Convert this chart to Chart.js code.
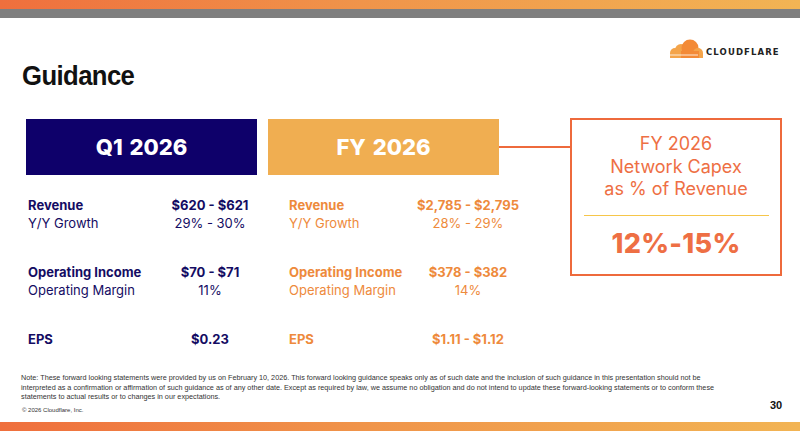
<!DOCTYPE html>
<html>
<head>
<meta charset="utf-8">
<script src="https://cdn.jsdelivr.net/npm/chart.js@4/dist/chart.umd.min.js"></script>
<style>
  html,body{margin:0;padding:0;background:#fff;}
  body{width:800px;height:431px;position:relative;overflow:hidden;font-family:Inter,"Noto Sans",sans-serif;}
  .abs{position:absolute;}
  #topbar{left:0;top:0;width:800px;height:9px;background:linear-gradient(90deg,#ef6f3d,#f0944a 45%,#f2b454);}
  #graybar{left:0;top:9px;width:800px;height:9px;background:#7f7f7f;}
  #botbar{left:0;top:422px;width:800px;height:9px;background:linear-gradient(90deg,#ef6f3d,#f0944a 45%,#f2b454);}
  #title{left:22px;top:61px;font-family:"Liberation Sans",Arial,sans-serif;font-weight:bold;font-size:27px;color:#111;letter-spacing:-0.6px;transform-origin:0 0;transform:scaleX(0.95);}
  .hdr{top:119px;width:231px;height:56px;color:#fff;font-weight:800;font-size:22px;display:flex;align-items:center;justify-content:center;word-spacing:2px;}
  #hq1{left:26px;background:#0e006a;}
  #hfy{left:268px;background:#f0ae51;}
  #conn{left:499px;top:146px;width:72px;height:2px;background:#ee6a3c;}
  #capex{left:570px;top:118px;width:208px;height:154px;border:2.5px solid #ee6a3c;color:#ee6f44;text-align:center;}
  #capex .t{font-size:18px;line-height:22.5px;margin-top:13px;}
  #capex .line{margin:14px auto 0;width:185px;height:1px;background:#f6c64a;}
  #capex .v{font-size:27px;font-weight:800;margin-top:11px;letter-spacing:0.3px;}
  .lbl{font-size:13px;line-height:18px;white-space:nowrap;}
  .lbl b{font-weight:700;}
  .val{font-size:13px;line-height:18px;text-align:center;white-space:nowrap;width:140px;}
  .q1{color:#140c63;}
  .fy{color:#ee8a3c;}
  #note{left:21px;top:373px;font-family:"Liberation Sans",Arial,sans-serif;font-size:7px;line-height:9.6px;color:#333;white-space:nowrap;}
  #copy{left:22px;top:407px;font-family:"Liberation Sans",Arial,sans-serif;font-size:6px;color:#333;}
  #page{left:770px;top:399px;font-family:"Liberation Sans",Arial,sans-serif;font-weight:bold;font-size:11px;color:#111;}
  #logo{left:667px;top:38px;width:40px;height:22px;}
  #logotext{left:706px;top:47px;font-family:"DejaVu Sans",sans-serif;font-weight:bold;font-size:8.5px;letter-spacing:1.1px;color:#222;}
  #chartwrap{left:0;top:0;width:1px;height:1px;opacity:0;}
</style>
</head>
<body>
<div id="topbar" class="abs"></div>
<div id="graybar" class="abs"></div>
<div id="botbar" class="abs"></div>

<svg id="logo" class="abs" viewBox="0 0 40 22" width="40" height="22">
  <circle cx="8" cy="15" r="5" fill="#f4a44a"/>
  <circle cx="14" cy="12" r="6" fill="#f4a44a"/>
  <circle cx="23" cy="10" r="8.5" fill="#f38a36"/>
  <circle cx="31" cy="15" r="5" fill="#f4a44a"/>
  <rect x="3" y="15" width="33" height="5" fill="#f4a44a"/>
  <rect x="14" y="13" width="18" height="7" fill="#f38a36"/>
  <line x1="3" y1="17" x2="31" y2="17" stroke="#fff" stroke-width="0.8"/>
</svg>
<div id="logotext" class="abs">CLOUDFLARE</div>

<div id="title" class="abs">Guidance</div>

<div id="hq1" class="abs hdr"></div>
<div id="hfy" class="abs hdr"></div>
<div id="conn" class="abs"></div>
<div id="capex" class="abs">
  <div class="t" id="capexTitle"></div>
  <div class="line"></div>
  <div class="v" id="capexVal"></div>
</div>

<div id="rows"></div>

<div id="note" class="abs">Note: These forward looking statements were provided by us on February 10, 2026. This forward looking guidance speaks only as of such date and the inclusion of such guidance in this presentation should not be<br>interpreted as a confirmation or affirmation of such guidance as of any other date. Except as required by law, we assume no obligation and do not intend to update these forward-looking statements or to conform these<br>statements to actual results or to changes in our expectations.</div>
<div id="copy" class="abs">© 2026 Cloudflare, Inc.</div>
<div id="page" class="abs">30</div>

<div id="chartwrap" class="abs"><canvas id="c"></canvas></div>

<script>
// ---- data ----
const periods = ['Q1 2026', 'FY 2026'];
const metricLabels = ['Revenue', 'Operating Income', 'EPS'];
const subLabels = ['Y/Y Growth', 'Operating Margin', ''];
const q1Values = ['$620 - $621', '$70 - $71', '$0.23'];
const q1SubValues = ['29% - 30%', '11%', ''];
const fyValues = ['$2,785 - $2,795', '$378 - $382', '$1.11 - $1.12'];
const fySubValues = ['28% - 29%', '14%', ''];
const capexTitleLines = ['FY 2026', 'Network Capex', 'as % of Revenue'];
const capexRange = '12%-15%';

// ---- layout ----
document.getElementById('hq1').textContent = periods[0];
document.getElementById('hfy').textContent = periods[1];
document.getElementById('capexTitle').innerHTML = capexTitleLines.join('<br>');
document.getElementById('capexVal').textContent = capexRange;

const rowTops = [196, 263, 330];
const rows = document.getElementById('rows');
function add(cls, left, top, html) {
  const d = document.createElement('div');
  d.className = 'abs ' + cls;
  d.style.left = left + 'px';
  d.style.top = top + 'px';
  d.innerHTML = html;
  rows.appendChild(d);
}
metricLabels.forEach((m, i) => {
  const t = rowTops[i];
  add('lbl q1', 28, t, '<b>' + m + '</b>' + (subLabels[i] ? '<br>' + subLabels[i] : ''));
  add('val q1', 140, t, '<b>' + q1Values[i] + '</b>' + (q1SubValues[i] ? '<br>' + q1SubValues[i] : ''));
  add('lbl fy', 289, t, '<b>' + m + '</b>' + (subLabels[i] ? '<br>' + subLabels[i] : ''));
  add('val fy', 398, t, '<b>' + fyValues[i] + '</b>' + (fySubValues[i] ? '<br>' + fySubValues[i] : ''));
});

// fit the note to the reference line width (~694px) by font size
const note = document.getElementById('note');
const w = note.getBoundingClientRect().width;
note.style.fontSize = (7 * 694 / w).toFixed(2) + 'px';

// Chart.js instance (no plotted marks in this slide)
new Chart(document.getElementById('c'), {
  type: 'bar',
  data: { labels: periods, datasets: [] },
  options: { animation: false, responsive: false, plugins: { legend: { display: false } } }
});
</script>
</body>
</html>
